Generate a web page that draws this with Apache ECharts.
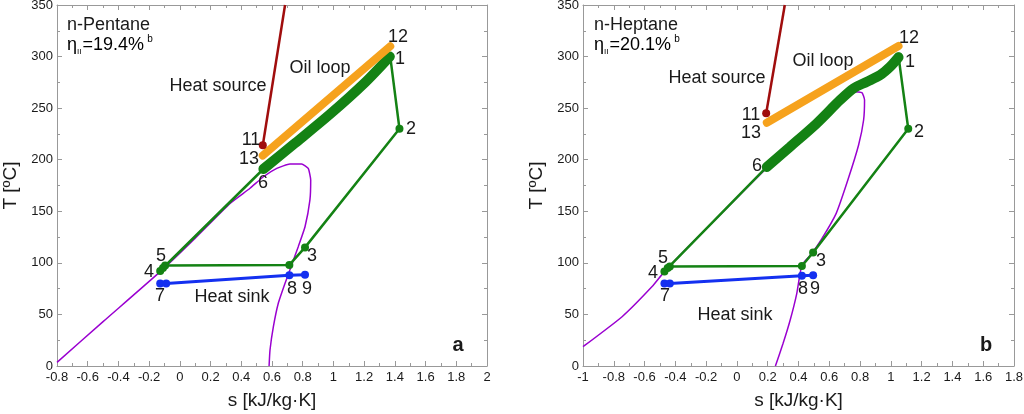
<!DOCTYPE html>
<html>
<head>
<meta charset="utf-8">
<script src="https://cdn.jsdelivr.net/npm/echarts@6/dist/echarts.min.js"></script>
<style>
html,body{margin:0;padding:0;background:#fff;}
#chart{width:1024px;height:414px;}
</style>
</head>
<body>
<div id="chart"></div>
<script>
// ---------- Data: panel a (n-Pentane) ----------
const pentaneCycle = [[1.37,300],[1.43,230],[0.815,115],[0.713,98],[-0.096,97.5],[-0.128,92],[-0.11,95],[0.544,191]];
const pentaneEvap = [[0.544,191],[0.75,216],[0.977,244],[1.2,274],[1.367,300]];
const pentaneOil = [[0.54,204],[1.37,310]];
const pentaneSource = [[0.54,214],[0.685,350]];
const pentaneSink = [[-0.128,80],[-0.089,80],[0.713,88],[0.815,88.5]];
const pentaneDome = [[-0.8,3.5],[-0.5,43],[-0.128,91.5],[0.1,124],[0.327,157.7],[0.457,172.3],[0.544,183.5],[0.631,191.6],[0.717,195.8],[0.793,195.8],[0.836,191.6],[0.852,180.3],[0.847,161],[0.815,135],[0.771,115.7],[0.728,97.9],[0.685,80.2],[0.641,60.8],[0.609,38.1],[0.587,15.5],[0.581,0]];

// ---------- Data: panel b (n-Heptane) ----------
const heptaneCycle = [[1.05,300],[1.113,230],[0.495,110],[0.422,97],[-0.436,96.5],[-0.471,91.5],[-0.45,95],[0.194,193]];
const heptaneEvap = [[0.194,193],[0.346,212.6],[0.519,235.3],[0.671,257.9],[0.758,269.2],[0.845,275.6],[0.931,282.1],[0.996,290.2],[1.05,299.3]];
const heptaneOil = [[0.194,235.9],[1.05,310.3]];
const heptaneSource = [[0.19,245],[0.311,350]];
const heptaneSink = [[-0.471,80],[-0.436,80],[0.422,87.5],[0.495,88]];
const heptaneDome = [[-1,18.7],[-0.746,47.8],[-0.551,77],[-0.471,91.5],[-0.2,133],[0.194,192],[0.346,212],[0.519,234],[0.682,263],[0.747,266],[0.812,265],[0.829,257.9],[0.823,238.5],[0.79,214],[0.72,180],[0.645,148],[0.55,123],[0.48,108],[0.422,97.9],[0.389,70.5],[0.346,44.6],[0.3,22],[0.25,0]];

// ---------- Axis ranges ----------
const xRangeA = [-0.8, 2];
const xRangeB = [-1, 1.8];
const yRange = [0, 350];
const xTitle = 's [kJ/kg·K]';
const yTitle = 'T [ºC]';

const FONT = 'Liberation Sans, Arial, sans-serif';
const TXT = '#1a1a1a';
const AX = '#999';

const chart = echarts.init(document.getElementById('chart'));

function xAx(grid, range, main) {
  return {
    type: 'value', gridIndex: grid, min: range[0], max: range[1], interval: 0.2,
    position: main ? 'bottom' : 'top',
    name: main ? xTitle : '', nameLocation: 'middle', nameGap: 25,
    nameTextStyle: {fontFamily: FONT, fontSize: 19, color: TXT},
    axisLine: {show: true, onZero: false, lineStyle: {color: AX, width: 1}},
    axisTick: {show: true, inside: true, length: 5, lineStyle: {color: AX}},
    minorTick: {show: true, splitNumber: 2, length: 3, lineStyle: {color: AX}},
    axisLabel: {show: main, fontFamily: FONT, fontSize: 13, color: TXT, margin: 5,
      formatter: v => String(Math.round(v * 10) / 10)},
    splitLine: {show: false}
  };
}
function yAx(grid, main) {
  return {
    type: 'value', gridIndex: grid, min: yRange[0], max: yRange[1], interval: 50,
    position: main ? 'left' : 'right',
    name: main ? yTitle : '', nameLocation: 'middle', nameGap: 37, nameRotate: 90,
    nameTextStyle: {fontFamily: FONT, fontSize: 19, color: TXT},
    axisLine: {show: true, onZero: false, lineStyle: {color: AX, width: 1}},
    axisTick: {show: true, inside: true, length: 5, lineStyle: {color: AX}},
    minorTick: {show: true, splitNumber: 2, length: 3, lineStyle: {color: AX}},
    axisLabel: {show: main, fontFamily: FONT, fontSize: 13, color: TXT, margin: 4},
    splitLine: {show: false}
  };
}

const GREEN = '#148214', ORANGE = '#f6a21d', RED = '#a00d0d', BLUE = '#1430f0', PURPLE = '#9a00d0';

function panelSeries(g, dome, cycle, evap, oil, source, sink) {
  const xi = g * 2, yi = g * 2;
  return [
    {type: 'line', xAxisIndex: xi, yAxisIndex: yi, data: dome, symbol: 'none', smooth: 0.15,
      lineStyle: {color: PURPLE, width: 1.5}, z: 1},
    {type: 'line', xAxisIndex: xi, yAxisIndex: yi, data: cycle, symbol: 'circle', symbolSize: 8,
      itemStyle: {color: GREEN}, lineStyle: {color: GREEN, width: 2.5}, z: 2},
    {type: 'line', xAxisIndex: xi, yAxisIndex: yi, data: evap, symbol: 'none', smooth: 0.3,
      lineStyle: {color: GREEN, width: 10, cap: 'round'}, z: 3},
    {type: 'line', xAxisIndex: xi, yAxisIndex: yi, data: oil, symbol: 'none',
      lineStyle: {color: ORANGE, width: 8, cap: 'round'}, z: 4},
    {type: 'line', xAxisIndex: xi, yAxisIndex: yi, data: source, symbol: 'circle', symbolSize: 8,
      itemStyle: {color: RED}, lineStyle: {color: RED, width: 2.5}, z: 5},
    {type: 'line', xAxisIndex: xi, yAxisIndex: yi, data: sink, symbol: 'circle', symbolSize: 8,
      itemStyle: {color: BLUE}, lineStyle: {color: BLUE, width: 3}, z: 5}
  ];
}

const series = [].concat(
  panelSeries(0, pentaneDome, pentaneCycle, pentaneEvap, pentaneOil, pentaneSource, pentaneSink),
  panelSeries(1, heptaneDome, heptaneCycle, heptaneEvap, heptaneOil, heptaneSource, heptaneSink)
);
// hide symbol at the open top end of heat source lines
series.forEach(s => {
  if (s.itemStyle && s.itemStyle.color === RED) {
    s.data = s.data.map((p, i) => i === 0 ? p : {value: p, symbol: 'none'});
  }
});

function t(x, y, text, size, align, bold) {
  return {type: 'text', x: x, y: y, z: 100,
    style: {text: text, fill: TXT, font: (bold ? 'bold ' : '') + size + 'px ' + FONT,
      textAlign: align || 'center', textVerticalAlign: 'middle'}};
}
function eta(x, y, val) {
  return {type: 'text', x: x, y: y, z: 100,
    style: {text: '{a|η}{s|II}{a|=' + val + '%} {p|b}', textAlign: 'left', textVerticalAlign: 'middle',
      rich: {
        a: {fontFamily: FONT, fontSize: 18, color: TXT, lineHeight: 22, verticalAlign: 'middle'},
        s: {fontFamily: FONT, fontSize: 8, color: TXT, verticalAlign: 'bottom', padding: [0, 1, 0, 0], lineHeight: 16},
        p: {fontFamily: FONT, fontSize: 10, color: TXT, verticalAlign: 'top', lineHeight: 22}
      }}};
}

const graphic = [
  // panel a
  t(67, 25, 'n-Pentane', 18, 'left'), eta(67, 45, '19.4'),
  t(398, 37, '12', 18), t(400, 59, '1', 18), t(411, 129, '2', 18), t(312, 256, '3', 18),
  t(149, 272, '4', 18), t(161, 256, '5', 18), t(263, 183, '6', 18), t(160, 296, '7', 18),
  t(292, 289, '8', 18), t(307, 289, '9', 18), t(251, 140, '11', 18), t(249, 159, '13', 18),
  t(320, 68, 'Oil loop', 18), t(218, 86, 'Heat source', 18), t(232, 297, 'Heat sink', 18),
  t(458, 345, 'a', 20, 'center', true),
  // panel b
  t(594, 25, 'n-Heptane', 18, 'left'), eta(594, 45, '20.1'),
  t(909, 38, '12', 18), t(910, 62, '1', 18), t(919, 132, '2', 18), t(821, 261, '3', 18),
  t(653, 273, '4', 18), t(663, 258, '5', 18), t(757, 166, '6', 18), t(665, 296, '7', 18),
  t(803, 289, '8', 18), t(815, 289, '9', 18), t(751, 115, '11', 18), t(751, 133, '13', 18),
  t(823, 61, 'Oil loop', 18), t(717, 78, 'Heat source', 18), t(735, 315, 'Heat sink', 18),
  t(986, 345, 'b', 20, 'center', true)
];

chart.setOption({
  animation: false,
  backgroundColor: '#fff',
  grid: [
    {left: 57, top: 5, width: 430, height: 361, containLabel: false, outerBoundsMode: 'none'},
    {left: 583, top: 5, width: 431, height: 361, containLabel: false, outerBoundsMode: 'none'}
  ],
  xAxis: [xAx(0, xRangeA, true), xAx(0, xRangeA, false), xAx(1, xRangeB, true), xAx(1, xRangeB, false)],
  yAxis: [yAx(0, true), yAx(0, false), yAx(1, true), yAx(1, false)],
  series: series,
  graphic: graphic
});
</script>
</body>
</html>
